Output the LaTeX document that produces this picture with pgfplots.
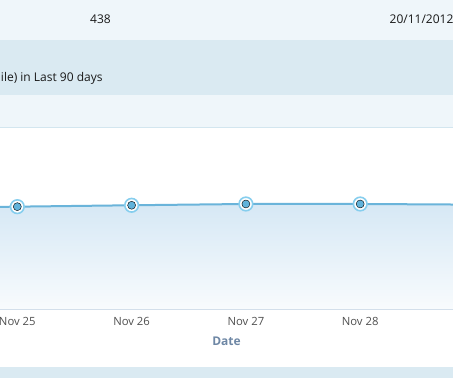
\documentclass[border=0pt]{standalone}
\usepackage{pgfplots}
\pgfplotsset{compat=1.18}
\usepackage{fontspec}
\setmainfont{Open Sans}
\definecolor{bandA}{RGB}{239,246,250}
\definecolor{bandB}{RGB}{218,234,242}
\definecolor{bandLine}{RGB}{211,230,239}
\definecolor{lineBlue}{RGB}{106,180,218}
\definecolor{ringBlue}{RGB}{134,206,238}
\definecolor{dotBlue}{RGB}{96,178,218}
\definecolor{areaTop}{RGB}{214,232,245}
\definecolor{areaBot}{RGB}{248,251,253}
\definecolor{axisCol}{RGB}{192,208,226}
\definecolor{gridCol}{RGB}{236,236,236}
\definecolor{tickText}{RGB}{80,80,80}
\definecolor{dateCol}{RGB}{110,135,165}
\begin{document}
\begin{tikzpicture}[x=1pt,y=1pt]
\path[use as bounding box] (0,0) rectangle (453,378);
\clip (0,0) rectangle (453,378);
\fill[white] (0,0) rectangle (453,378);
\fill[bandA] (0,338) rectangle (453,378);
\fill[bandB] (0,283) rectangle (453,338);
\fill[bandA] (0,251) rectangle (453,283);
\fill[bandB] (0,0) rectangle (453,11);
\node[font=\fontsize{12}{14}\selectfont, text=black!90] at (100.5,359) {438};
\node[anchor=west, font=\fontsize{12}{14}\selectfont, text=black!90, inner sep=0pt] at (389.5,359) {20/11/2012};
\node[anchor=west, font=\fontsize{12}{14}\selectfont, text=black!90, inner sep=0pt] at (0.8,300) {ile) in Last 90 days};
\begin{axis}[
  at={(0pt,68.7pt)}, anchor=south west,
  width=453pt, height=182pt, scale only axis,
  xmin=-0.1515, xmax=3.812,
  ymin=0, ymax=666,
  axis x line=bottom, axis y line=none,
  axis line style={-, draw=axisCol, line width=0.8pt},
  xtick={0,1,2,3}, xticklabels={Nov 25,Nov 26,Nov 27,Nov 28},
  major x tick style={draw=none},
  extra x ticks={-0.5,0.5,1.5,2.5,3.5},
  extra x tick labels={},
  extra x tick style={major tick length=5pt, tick align=outside, tick style={draw=axisCol, line width=0.6pt}},
  ytick={500}, yticklabels={}, ymajorgrids,
  major grid style={draw=gridCol, line width=0.8pt},
  ytick style={draw=none},
  xticklabel style={font=\fontsize{11.3}{13}\selectfont, text=tickText, yshift=-2pt},
  xlabel={Date},
  xlabel style={font=\fontsize{12}{14}\selectfont\bfseries, text=dateCol, yshift=2pt},
  clip=true,
]
\addplot[draw=none, top color=areaTop, bottom color=areaBot] coordinates {(-1,371) (0,375.6) (1,380.7) (2,385.4) (3,385.4) (4,383)} \closedcycle;
\addplot[lineBlue, line width=2pt, mark=none] coordinates {(-1,371) (0,375.6) (1,380.7) (2,385.4) (3,385.4) (4,383)};
\addplot[only marks, mark=*, mark size=6.8pt, mark options={fill=white, draw=ringBlue, line width=1.6pt}] coordinates {(0,375.6) (1,380.7) (2,385.4) (3,385.4)};
\addplot[only marks, mark=*, mark size=4pt, mark options={fill=dotBlue, draw=none}] coordinates {(0,375.6) (1,380.7) (2,385.4) (3,385.4)};
\end{axis}
\draw[bandLine, line width=1pt] (0,250.7) -- (453,250.7);
\end{tikzpicture}
\end{document}
